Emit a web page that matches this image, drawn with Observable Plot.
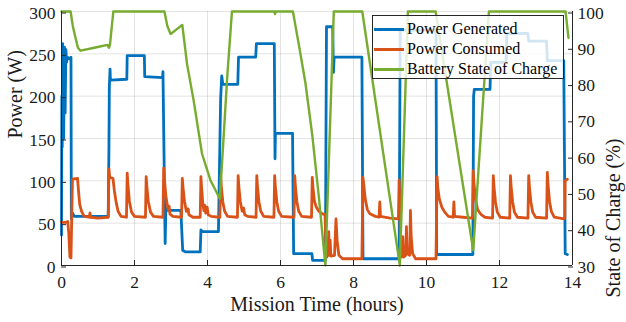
<!DOCTYPE html>
<html>
<head>
<meta charset="utf-8">
<script src="https://cdn.jsdelivr.net/npm/d3@7"></script>
<script src="https://cdn.jsdelivr.net/npm/@observablehq/plot@0.6"></script>
<style>
  body { margin: 0; background: #fff; }
  #wrap { position: relative; width: 626px; height: 322px; }
  #wrap, #wrap * { font-family: "Liberation Serif", "Times New Roman", Times, serif !important; }
  #legend { position: absolute; left: 372px; top: 15px; width: 192px; height: 64px; border: 1px solid #262626;
            background: rgba(255,255,255,0.82); box-sizing: border-box; padding-top: 3px; }
  .row { display: flex; align-items: center; height: 20px; font-size: 16px; color: #000; white-space: nowrap; }
  .sw { width: 30px; height: 3px; margin-left: 1px; margin-right: 3px; flex: none; }
</style>
</head>
<body>
<div id="wrap"></div>
<script>
// ---------- data ----------
const xTicks = [0, 2, 4, 6, 8, 10, 12, 14];
const yTicks = [0, 50, 100, 150, 200, 250, 300];
const socTicks = [30, 40, 50, 60, 70, 80, 90, 100];
const seriesNames = ["Power Generated", "Power Consumed", "Battery State of Charge"];
const seriesColors = ["#0072BD", "#D95319", "#77AC30"];

// [hours, W]
const powerGenerated = [
  [0,36],[0.01,200],[0.02,140],[0.03,262],[0.06,150],[0.08,258],[0.1,180],[0.12,255],[0.14,240],[0.16,246],
  [0.22,244],[0.26,246],[0.27,55],[0.3,62],[0.35,58],[0.7,58],[1.0,58],[1.28,58],
  [1.3,140],[1.31,210],[1.33,232],[1.34,219],[1.79,220],[1.8,248],[2.27,248],[2.28,223],[2.77,222],[2.78,229],
  [2.8,160],[2.84,26],[2.86,68],[2.9,65],[3.27,65],[3.32,18],[3.4,16],[3.8,16],[3.82,42],[3.86,40],[4.3,40],
  [4.33,120],[4.36,197],[4.39,224],[4.42,214],[4.83,214],[4.85,246],[5.32,246],[5.34,262],[5.83,262],
  [5.85,126],[5.86,156],[6.33,156],[6.36,14],[6.86,14],[6.88,6],[7.23,6],[7.26,282],[7.43,282],[7.45,228],
  [7.47,246],[8.23,246],[8.26,8],[9.25,8],[9.28,278],[10.26,278],[10.28,13],[11.27,13],[11.29,200],[11.31,208],
  [11.74,208],[11.76,240],[12.18,240],[12.2,274],[12.78,274],[12.8,265],[13.29,265],[13.31,242],[13.76,242],
  [13.8,14],[13.86,13]
];

// [hours, W]
const powerConsumed = [
  [0,51],[0.14,51],[0.17,52],[0.2,38],[0.23,10],[0.26,9],[0.28,55],[0.3,102],[0.44,103],[0.47,86],[0.5,72],[0.55,64],
  [0.62,58],[0.76,57],[0.78,62],[0.8,57],[1.0,56],[1.28,57],
  [1.3,114],[1.32,104],[1.41,103],[1.45,88],[1.5,74],[1.55,64],[1.63,58],[1.78,57],
  [1.8,109],[1.82,96],[1.86,76],[1.92,63],[2.0,58],[2.3,57],
  [2.32,105],[2.34,93],[2.38,75],[2.44,63],[2.52,58],[2.78,57],
  [2.8,115],[2.82,102],[2.86,82],[2.92,66],[2.95,70],[2.97,61],[3.05,58],[3.29,57],
  [3.31,103],[3.33,92],[3.37,76],[3.42,64],[3.47,67],[3.49,60],[3.6,57],[3.8,57],
  [3.82,105],[3.84,91],[3.87,74],[3.9,65],[3.93,71],[3.95,62],[3.99,69],[4.02,60],[4.1,58],[4.34,57],
  [4.36,106],[4.38,93],[4.42,75],[4.47,64],[4.55,58],[4.82,57],
  [4.84,106],[4.86,93],[4.9,75],[4.95,64],[4.99,68],[5.02,60],[5.1,58],[5.33,57],
  [5.35,106],[5.37,93],[5.41,75],[5.46,64],[5.54,58],[5.82,57],
  [5.84,106],[5.86,93],[5.9,75],[5.95,64],[6.03,58],[6.37,57],
  [6.39,106],[6.41,93],[6.45,75],[6.5,64],[6.58,58],[6.85,57],
  [6.87,104],[6.89,92],[6.93,76],[6.98,69],[7.05,64],[7.15,61],[7.22,60],[7.24,30],[7.27,10],[7.3,14],[7.32,40],
  [7.34,12],[7.36,30],[7.38,11],[7.48,12],[7.52,55],[7.55,30],[7.6,12],[7.7,8],[8.23,8],
  [8.26,104],[8.28,96],[8.32,79],[8.38,66],[8.45,61],[8.6,58],[8.7,57],[8.72,75],[8.74,58],[9.0,56],[9.23,55],
  [9.25,101],[9.27,70],[9.29,20],[9.31,10],[9.35,34],[9.37,10],[9.43,12],[9.45,46],[9.47,14],[9.54,12],[9.56,65],
  [9.58,34],[9.62,14],[9.7,8],[10.26,8],
  [10.29,105],[10.31,92],[10.35,79],[10.42,69],[10.5,63],[10.6,58],[10.73,57],[10.75,75],[10.77,58],[11.0,57],[11.26,56],
  [11.28,112],[11.3,98],[11.34,79],[11.4,66],[11.5,60],[11.6,57],[11.81,56],
  [11.83,106],[11.85,93],[11.89,75],[11.94,63],[12.02,57],[12.28,56],
  [12.3,106],[12.32,93],[12.36,75],[12.41,63],[12.49,57],[12.78,56],
  [12.8,106],[12.82,93],[12.86,75],[12.91,63],[12.99,57],[13.29,56],
  [13.31,110],[13.33,96],[13.37,76],[13.42,64],[13.5,57],[13.77,55],
  [13.79,56],[13.8,100],[13.86,102]
];

// [hours, %]
const stateOfCharge = [
  [0,100],[0.25,100],[0.31,96],[0.38,92.9],[0.45,90],[0.52,89.2],[0.9,90],[1.26,90.8],[1.3,90],[1.33,91],[1.42,100],
  [2.82,100],[2.9,96],[2.99,93.8],[3.31,96.3],[3.44,85.5],[3.62,75.5],[3.85,60.8],[4.08,53.5],[4.34,48.4],
  [4.54,81.9],[4.67,100],[5.83,100],[5.85,99.3],[5.87,100],[6.34,100],[6.5,91],[6.68,80.5],[6.87,66],[7.05,49],
  [7.23,30],[7.46,100],[8.24,100],[9.27,30],[9.49,100],[10.25,100],[11.28,34.2],[11.71,100],[13.81,100],[13.89,92.7]
];

// right axis (SOC %) shares the frame with the power axis (W)
const socToW = s => (s - 30) / (100 - 30) * 300;
const wToSoc = w => 30 + w * (100 - 30) / 300;

const axisColor = "#262626";
const fontFamily = "Liberation Serif, serif";

const chart = Plot.plot({
  width: 626,
  height: 322,
  marginLeft: 61,
  marginRight: 54,
  marginTop: 11,
  marginBottom: 57,
  x: {domain: [0, 14]},
  y: {domain: [0, 300]},
  style: {fontFamily, fontSize: "17.5px", background: "white", color: "#000"},
  marks: [
    Plot.gridX(xTicks, {stroke: axisColor, strokeOpacity: 0.13}),
    Plot.gridY(yTicks, {stroke: axisColor, strokeOpacity: 0.13}),
    Plot.line(powerGenerated, {x: d => d[0], y: d => d[1], stroke: seriesColors[0], strokeWidth: 2.8}),
    Plot.line(powerConsumed, {x: d => d[0], y: d => d[1], stroke: seriesColors[1], strokeWidth: 2.8}),
    Plot.line(stateOfCharge, {x: d => d[0], y: d => socToW(d[1]), stroke: seriesColors[2], strokeWidth: 2.4}),
    Plot.ruleY([0], {stroke: axisColor}),
    Plot.ruleX([0], {stroke: axisColor}),
    Plot.ruleX([14], {stroke: axisColor}),
    Plot.axisX(xTicks, {anchor: "bottom", tickSize: -5, tickPadding: 15, label: null, color: axisColor, fill: "#1a1a1a", fontFamily}),
    Plot.axisY(yTicks, {anchor: "left", tickSize: -5, tickPadding: 11, label: null, color: axisColor, fill: "#1a1a1a", dy: 1.5, fontFamily}),
    Plot.axisY(socTicks.map(socToW), {anchor: "right", tickSize: -5, tickPadding: 10, label: null, color: axisColor, fill: "#1a1a1a", dy: 1.5, fontFamily,
      tickFormat: d => String(Math.round(wToSoc(d)))}),
    Plot.text(["Mission Time (hours)"], {frameAnchor: "bottom", dy: 39.5, lineAnchor: "middle", fontSize: 20, fill: "#1a1a1a", fontFamily}),
    Plot.text(["Power (W)"], {frameAnchor: "left", dx: -46, rotate: -90, lineAnchor: "middle", fontSize: 20, fill: "#1a1a1a", fontFamily}),
    Plot.text(["State of Charge (%)"], {frameAnchor: "right", dx: 41, rotate: -90, lineAnchor: "middle", fontSize: 20, fill: "#1a1a1a", fontFamily})
  ]
});

const wrap = document.getElementById("wrap");
wrap.appendChild(chart);

const legend = document.createElement("div");
legend.id = "legend";
seriesNames.forEach((name, i) => {
  const row = document.createElement("div");
  row.className = "row";
  const sw = document.createElement("span");
  sw.className = "sw";
  sw.style.background = seriesColors[i];
  const label = document.createElement("span");
  label.textContent = name;
  row.appendChild(sw);
  row.appendChild(label);
  legend.appendChild(row);
});
wrap.appendChild(legend);
</script>
</body>
</html>
